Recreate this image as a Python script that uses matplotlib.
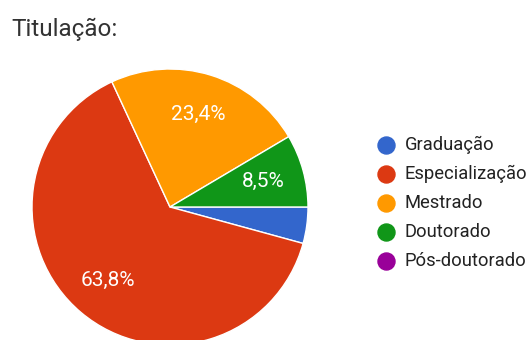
import matplotlib.pyplot as plt

plt.rcParams['font.family'] = ['Roboto', 'DejaVu Sans']

categories = ['Graduação', 'Especialização', 'Mestrado', 'Doutorado', 'Pós-doutorado']
counts = [2, 30, 11, 4, 0]
colors = ['#3366CC', '#DC3912', '#FF9900', '#109618', '#990099']

W, H = 531, 340
fig = plt.figure(figsize=(W / 100, H / 100), dpi=100)
ax = fig.add_axes([0, 0, 1, 1])

shown = [(c, col) for c, col in zip(counts, colors) if c > 0]


def pct_label(p):
    # small slices get no label
    if p < 5:
        return ''
    return f'{p:.1f}%'.replace('.', ',')


wedges, texts, autotexts = ax.pie(
    [c for c, _ in shown],
    colors=[col for _, col in shown],
    startangle=0, counterclock=False,
    center=(170, H - 207), radius=138,
    autopct=pct_label, pctdistance=0.70,
    wedgeprops=dict(edgecolor='white', linewidth=1),
    textprops=dict(color='white', fontsize=15),
    frame=True,
)

ax.set_xlim(0, W)
ax.set_ylim(0, H)
ax.set_aspect('equal')
ax.axis('off')

# title
ax.text(11, H - 29, 'Titulação:', fontsize=17.5, color='#333333', va='center', ha='left')

# legend on the right
for i, (name, col) in enumerate(zip(categories, colors)):
    y = H - (145 + 29 * i)
    ax.scatter([386], [y], s=150, color=col, zorder=3, clip_on=False)
    ax.text(405, y, name, fontsize=13.2, color='#222222', va='center', ha='left')

fig.savefig('out.png', dpi=100)
